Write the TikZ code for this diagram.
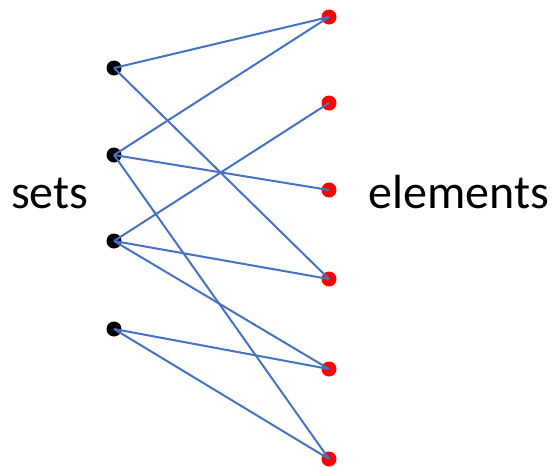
\documentclass[tikz,border=0pt]{standalone}
\usepackage{fontspec}
\setmainfont{Carlito}
\definecolor{edgeblue}{RGB}{68,114,196}
\begin{document}
\begin{tikzpicture}[x=1pt,y=-1pt,
  setdot/.style={circle,fill=black,inner sep=0pt,minimum size=15pt},
  elemdot/.style={circle,fill=red,inner sep=0pt,minimum size=15pt},
  edge/.style={draw=edgeblue,line width=2pt},
  lbl/.style={inner sep=0pt,anchor=base west,font=\fontsize{48}{52}\selectfont}]
\useasboundingbox (0,0) rectangle (552,467);
\node[setdot] (s1) at (114,68) {};
\node[setdot] (s2) at (114,155) {};
\node[setdot] (s3) at (114,241) {};
\node[setdot] (s4) at (114,329) {};
\node[elemdot] (e1) at (329,17) {};
\node[elemdot] (e2) at (329,103) {};
\node[elemdot] (e3) at (329,190) {};
\node[elemdot] (e4) at (329,279) {};
\node[elemdot] (e5) at (329,369) {};
\node[elemdot] (e6) at (329,459) {};
\draw[edge] (s1.center) -- (e1.center);
\draw[edge] (s1.center) -- (e4.center);
\draw[edge] (s2.center) -- (e1.center);
\draw[edge] (s2.center) -- (e3.center);
\draw[edge] (s2.center) -- (e6.center);
\draw[edge] (s3.center) -- (e2.center);
\draw[edge] (s3.center) -- (e4.center);
\draw[edge] (s3.center) -- (e5.center);
\draw[edge] (s4.center) -- (e5.center);
\draw[edge] (s4.center) -- (e6.center);
\node[lbl] (sets) at (11,208) {sets};
\node[lbl] (elems) at (368,208) {elements};
\end{tikzpicture}
\end{document}
